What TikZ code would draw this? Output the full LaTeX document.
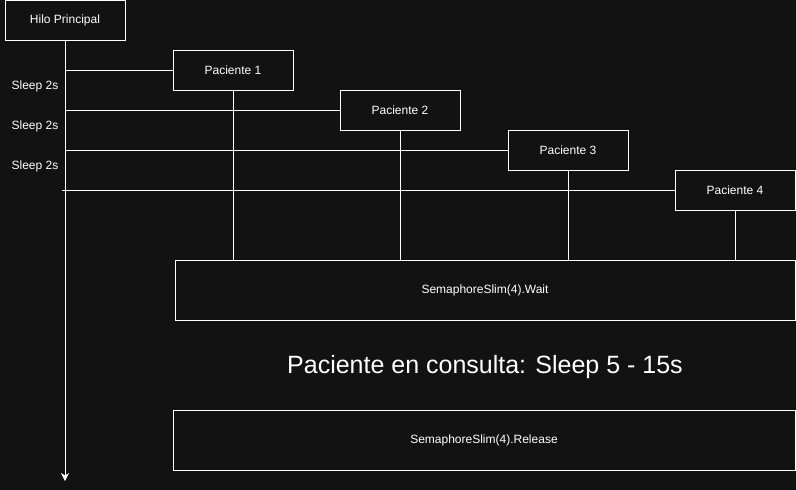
\documentclass[tikz,border=0pt]{standalone}
\usepackage{fontspec}
\setmainfont{Liberation Sans}
\usetikzlibrary{positioning,arrows.meta}
\definecolor{fondo}{RGB}{18,18,18}

\begin{document}
\begin{tikzpicture}[x=1pt,y=-1pt,line width=1pt,>={Stealth[length=8pt,width=8pt,inset=2.5pt]},white,
      caja/.style={draw,fill=fondo,minimum width=120pt,minimum height=40pt,
        inner sep=0pt,font=\fontsize{12}{14}\selectfont},
      barra/.style={caja,minimum height=60pt},
      nota/.style={font=\fontsize{12}{14}\selectfont}]
  \fill[fondo] (0,0) rectangle (796,490);
  \useasboundingbox (0,0) rectangle (796,490);
			\node[caja] (hilo) at (65,20) {Hilo Principal};
			\node[caja] (p1) at (233,70) {Paciente 1};
			\node[caja] (p2) at (400,110) {Paciente 2};
			\node[caja] (p3) at (568,150) {Paciente 3};
			\node[caja] (p4) at (735,190) {Paciente 4};
			\node[barra,minimum width=620pt] (espera) at (485,290) {SemaphoreSlim(4).Wait};
			\node[font=\fontsize{25}{30}\selectfont] (consulta) at (485,367) {Paciente en consulta: Sleep 5 - 15s};
			\node[barra,minimum width=622pt] (libera) at (484,440) {SemaphoreSlim(4).Release};
			\node[nota] (s1) at (35,86) {Sleep 2s};
			\node[nota] (s2) at (35,126) {Sleep 2s};
			\node[nota] (s3) at (35,166) {Sleep 2s};
			\coordinate (fin) at (65,481);
			\draw[->] (hilo.south) -- (fin);
			\draw (hilo.south |- p1.west) -- (p1.west);
			\draw (hilo.south |- p2.west) -- (p2.west);
			\draw (hilo.south |- p3.west) -- (p3.west);
			\draw ([xshift=-3pt]hilo.south |- p4.west) -- (p4.west);
			\foreach \p in {p1,p2,p3,p4}
				\draw (\p.south) -- (\p.south |- espera.north);
		\end{tikzpicture}
\end{document}
